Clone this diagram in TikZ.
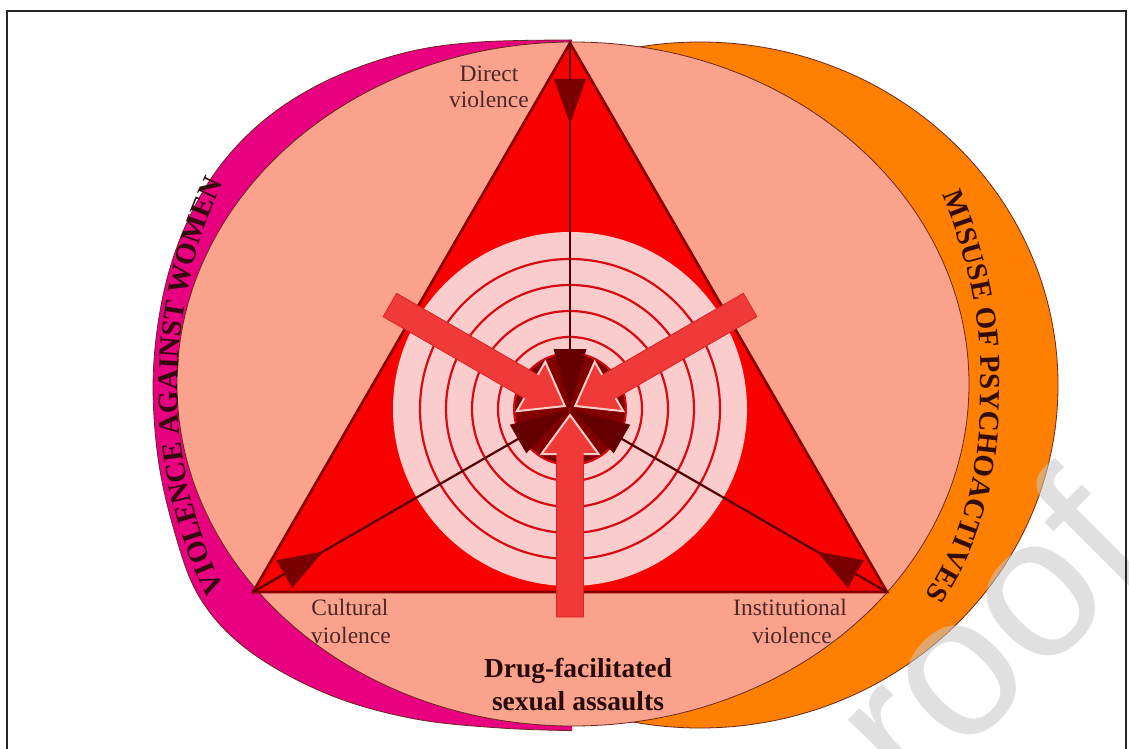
\documentclass[tikz,border=0pt]{standalone}
\usepackage{fontspec}
\setmainfont{Liberation Serif}
\newfontfamily\wmfont{Liberation Sans}
\usetikzlibrary{decorations.text}
\definecolor{magentaband}{RGB}{232,0,128}
\definecolor{orangeband}{RGB}{255,128,0}
\definecolor{salmonfill}{RGB}{250,162,140}
\definecolor{trired}{RGB}{250,0,0}
\definecolor{tridark}{RGB}{135,0,0}
\definecolor{targetpink}{RGB}{250,204,204}
\definecolor{ringred}{RGB}{215,10,20}
\definecolor{coredark}{RGB}{128,0,0}
\definecolor{headdark}{RGB}{120,0,0}
\definecolor{centerhead}{RGB}{100,0,0}
\definecolor{spokedark}{RGB}{85,0,0}
\definecolor{arrowred}{RGB}{240,58,58}
\definecolor{arrowdarkedge}{RGB}{215,35,35}
\definecolor{arrowrim}{RGB}{250,205,200}
\definecolor{labeltext}{RGB}{75,40,40}
\definecolor{boldtext}{RGB}{40,12,12}
\definecolor{curvecol}{RGB}{50,12,12}
\definecolor{outlinecol}{RGB}{105,40,30}
\definecolor{wmgray}{RGB}{200,200,200}
\begin{document}
\begin{tikzpicture}[x=1pt,y=-1pt,
  labelstyle/.style={font=\fontsize{23.5}{26}\selectfont, text=labeltext, inner sep=0pt, anchor=base},
  boldlabel/.style={font=\fontsize{27.5}{30}\selectfont\bfseries, text=boldtext, inner sep=0pt, anchor=base},
  bandedge/.style={draw=outlinecol, line width=0.8pt},
  ring/.style={draw=ringred, line width=2.2pt},
  spoke/.style={draw=spokedark, line width=2.2pt},
  bigarrow/.style={fill=arrowred, draw=arrowdarkedge, line width=0.8pt, line join=miter},
  headrim/.style={draw=arrowrim, line width=2pt, line join=miter},
  framestyle/.style={draw=black!85, line width=1.8pt}
]
\useasboundingbox (0,0) rectangle (1129,749);
\fill[white] (0,0) rectangle (1129,749);
\begin{scope}
\clip (0,0) rectangle (1129,749);

\coordinate (C) at (570,409);
\coordinate (VT) at (570,43);
\coordinate (VL) at (253,592);
\coordinate (VR) at (887,592);

% outer bands
\begin{scope}
  \clip (0,0) rectangle (572,749);
  \path[fill=magentaband, bandedge] plot[smooth, tension=0.6] coordinates {(590,40) (480,42) (400,54) (320,84) (255,128) (205,188) (170,268) (154,360) (157,450) (174,530) (200,598) (248,650) (325,693) (410,718) (500,728) (590,731)} -- cycle;
\end{scope}
\begin{scope}
  \clip (572,0) rectangle (1129,749);
  \path[fill=orangeband, bandedge] (700,385) ellipse [x radius=358, y radius=343];
\end{scope}
\path[fill=salmonfill, bandedge] (573,384) ellipse [x radius=396, y radius=342];

% triangle
\path[fill=trired, draw=tridark, line width=2.6pt, line join=miter] (VT) -- (VL) -- (VR) -- cycle;

% target
\fill[targetpink] (C) circle [radius=177];
\foreach \r in {150,124,98,72} \draw[ring] (C) circle [radius=\r];

% spokes
\draw[spoke] (VT) -- (C);
\draw[spoke] (VL) -- (C);
\draw[spoke] (VR) -- (C);
\foreach \a in {0,120,240}
  \fill[headdark, rotate around={\a:(C)}] (554,79) -- (586,79) -- (570,124) -- cycle;

% core
\filldraw[fill=coredark, draw=ringred, line width=2pt] (C) circle [radius=56];
\foreach \a in {0,120,240}
  \fill[centerhead, rotate around={\a:(C)}] (553.5,349) -- (586.5,349) -- (570,405) -- cycle;

% big arrows
\foreach \a in {0,120,240}{
  \begin{scope}[rotate around={\a:(C)}]
    \path[bigarrow] (570,415) -- (598.5,454) -- (583.5,454) -- (583.5,617) -- (556.5,617) -- (556.5,454) -- (541.5,454) -- cycle;
    \draw[headrim] (583.5,454) -- (598.5,454) -- (570,415) -- (541.5,454) -- (556.5,454);
  \end{scope}
}

% labels
\node[labelstyle] (dirA) at (489,82) {Direct};
\node[labelstyle] (dirB) at (489,108) {violence};
\node[labelstyle] (culA) at (350,615) {Cultural};
\node[labelstyle] (culB) at (351,643) {violence};
\node[labelstyle] (insA) at (790,615) {Institutional};
\node[labelstyle] (insB) at (792,643) {violence};
\node[boldlabel] (dfsA) at (578,677) {Drug-facilitated};
\node[boldlabel] (dfsB) at (578,710) {sexual assaults};

% curved titles
\path[decorate, decoration={text along path, text align=center, text color=curvecol,
   text={|\fontsize{29}{29}\selectfont\bfseries|VIOLENCE AGAINST WOMEN}}]
  (236,612) .. controls (196,540) and (176,460) .. (178,380) .. controls (180,300) and (198,226) .. (236,160);
\path[decorate, decoration={text along path, text align=center, text color=curvecol,
   text={|\fontsize{29}{29}\selectfont\bfseries|MISUSE OF PSYCHOACTIVES}}]
  (936,180) .. controls (972,262) and (984,330) .. (980,415) .. controls (976,495) and (955,555) .. (916,608);

% watermark
\node[font=\wmfont\fontsize{200}{200}\selectfont, text=wmgray, opacity=0.55, rotate=45, inner sep=0pt] (wm) at (985,632) {roof};

% frame
\draw[framestyle] (7,760) -- (7,11) -- (1126,11) -- (1126,760);
\end{scope}
\end{tikzpicture}
\end{document}
